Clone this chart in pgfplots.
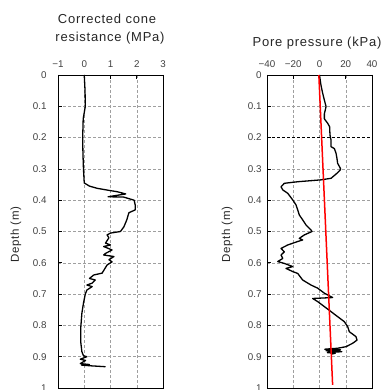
\documentclass[border=0pt]{standalone}
\usepackage{fontspec}
\setmainfont{Liberation Sans}
\newfontfamily\titlefont[LetterSpace=6]{Liberation Sans}
\usepackage{pgfplots}
\pgfplotsset{compat=1.18}
\pgfplotsset{
  cpt/.style={
    scale only axis, width=105pt, height=313pt,
    y dir=reverse, ymin=0, ymax=1,
    ytick={0,0.1,0.2,0.3,0.4,0.5,0.6,0.7,0.8,0.9,1},
    yticklabels={0,0.1,0.2,0.3,0.4,0.5,0.6,0.7,0.8,0.9,1},
    xticklabel pos=right, xtick pos=right, ytick pos=left,
    tick align=inside, major tick length=4pt,
    grid=major,
    grid style={gray!75, dash pattern=on 3pt off 2pt, line width=0.5pt},
    axis line style={line width=0.9pt},
    every tick/.style={black, line width=0.8pt},
    tick label style={font=\fontsize{9.8}{11}\selectfont, text=black!75},
    xticklabel style={yshift=4pt},
    ylabel style={font=\titlefont\fontsize{11.5}{13}\selectfont, text=black!85},
    /pgf/number format/assume math mode=true,
  }
}
\begin{document}
\begin{tikzpicture}[x=1pt,y=1pt]
\path[use as bounding box] (0,0) rectangle (385,390);
\node[anchor=base, font=\titlefont\fontsize{13}{15}\selectfont, text=black!85] at (107,366) {Corrected cone};
\node[anchor=base, font=\titlefont\fontsize{13}{15}\selectfont, text=black!85] at (110,348) {resistance (MPa)};
\node[anchor=base, font=\titlefont\fontsize{13}{15}\selectfont, text=black!85] at (317,343) {Pore pressure (kPa)};

\begin{axis}[cpt, at={(58pt,2pt)}, anchor=south west,
  xmin=-1, xmax=3, xtick={-1,0,1,2,3}, xticklabels={−1,0,1,2,3},
  yticklabel style={xshift=-8pt},
  ylabel={Depth (m)},
  ylabel style={at={(axis description cs:-0.40,0.49)}, anchor=center},
]
\addplot[black, line width=1.3pt, line join=round] coordinates {
(0,0) (0.03,0.05) (0.04,0.1) (-0.04,0.14) (-0.06,0.2) (-0.05,0.25) (-0.03,0.3) (0,0.345)
(0.2,0.355) (0.49,0.362) (0.9,0.368) (1.26,0.373) (1.58,0.38) (0.91,0.389) (1.5,0.39) (1.9,0.40)
(1.94,0.415) (1.94,0.431) (1.7,0.44) (1.62,0.463) (1.51,0.485) (1.38,0.50) (1.0,0.505)
(0.87,0.511) (0.94,0.52) (0.81,0.537) (1.0,0.543) (0.74,0.548) (1.06,0.559) (0.81,0.57)
(0.74,0.575) (1.13,0.58) (0.94,0.59) (1.06,0.597) (0.87,0.607) (0.68,0.633) (0.36,0.639)
(0.2,0.65) (0.42,0.655) (0.3,0.665) (0.1,0.671) (0.3,0.676) (0.1,0.687) (0.04,0.70)
(-0.03,0.729) (-0.09,0.761) (-0.13,0.804) (-0.13,0.856) (-0.09,0.884) (-0.03,0.897)
(0.1,0.900) (-0.15,0.908) (0.05,0.912) (-0.03,0.916) (-0.15,0.922) (0.2,0.925) (-0.1,0.927)
(0.23,0.929) (0.81,0.932)
};
\end{axis}

\begin{axis}[cpt, at={(267pt,2pt)}, anchor=south west,
  xmin=-40, xmax=40, xtick={-40,-20,0,20,40}, xticklabels={−40,−20,0,20,40},
  yticklabel style={xshift=-2pt},
  extra y ticks={0.2}, extra y tick labels={},
  extra y tick style={grid style={black, dash pattern=on 3pt off 2pt, line width=0.7pt}},
  ylabel={Depth (m)},
  ylabel style={at={(axis description cs:-0.38,0.49)}, anchor=center},
]
\addplot[black, line width=1.3pt, line join=round] coordinates {
(0,0) (1.1,0.032) (2.4,0.058) (3.7,0.08) (5,0.101) (3.7,0.124) (3.7,0.14) (6.2,0.154)
(7.7,0.165) (8,0.192) (8.8,0.208) (8.8,0.229) (11.3,0.235) (12.6,0.25) (13.3,0.266)
(13.8,0.282) (15.9,0.298) (15.9,0.303) (13.3,0.314) (8.8,0.33) (1.1,0.335) (-16.6,0.341)
(-26.8,0.346) (-29.3,0.357) (-28,0.367) (-24.2,0.378) (-20.4,0.399) (-17.9,0.415)
(-16.6,0.431) (-15.4,0.447) (-12.8,0.463) (-10.3,0.479) (-6.5,0.495) (-5.7,0.50)
(-11.6,0.511) (-15.4,0.522) (-12.8,0.527) (-16.6,0.532) (-24.2,0.543) (-29.3,0.554)
(-26.8,0.565) (-29.3,0.575) (-28,0.586) (-31.8,0.596) (-26.8,0.602) (-20.4,0.612)
(-25.5,0.618) (-20.4,0.628) (-16.6,0.634) (-12.8,0.655) (-6.5,0.671) (-1.4,0.681)
(3.7,0.697) (10,0.711) (-5.2,0.714) (-1.4,0.724) (3.7,0.74) (8.8,0.756) (13.8,0.772)
(18.9,0.788) (21.5,0.804) (22.7,0.82) (27.8,0.836) (28.6,0.847) (25.3,0.857)
(20.2,0.868) (13.8,0.873) (4,0.876) (16,0.878) (5,0.881) (17,0.884) (6,0.887)
(12,0.889) (8.8,0.892)
};
\addplot[red, line width=1.5pt] coordinates {(-0.5,0) (10,0.99)};
\end{axis}
\end{tikzpicture}
\end{document}
